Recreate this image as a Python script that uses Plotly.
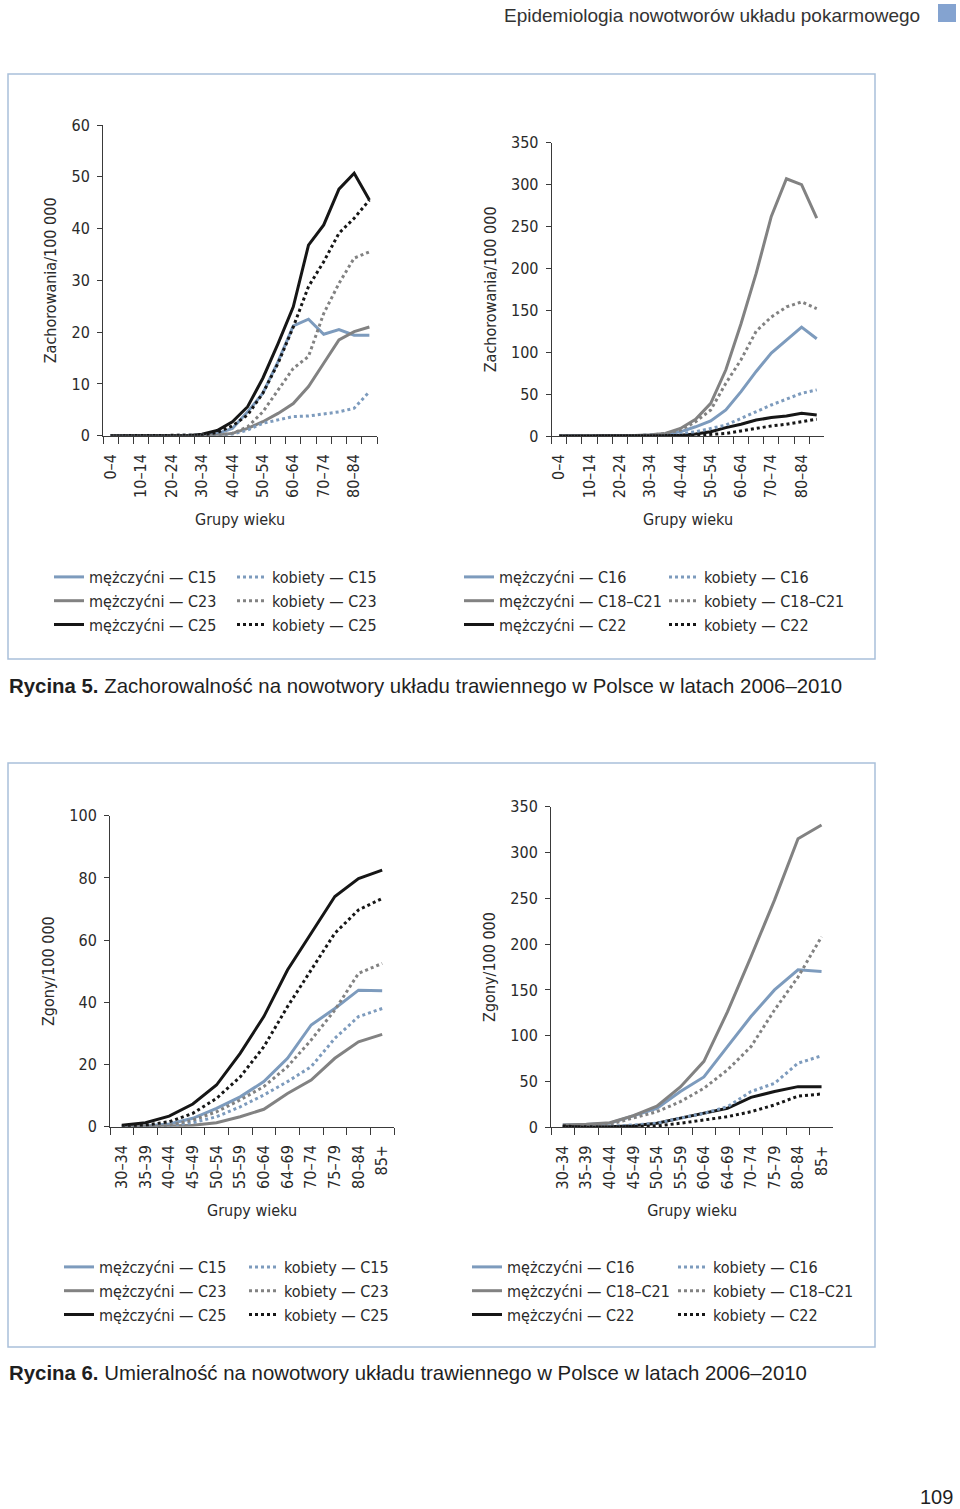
import plotly.graph_objects as go

# ---------------- DATA ----------------
ages_inc = ["0–4", "5–9", "10–14", "15–19", "20–24", "25–29", "30–34", "35–39", "40–44",
            "45–49", "50–54", "55–59", "60–64", "65–69", "70–74", "75–79", "80–84", "85+"]
ages_inc_labels = ["0–4", "", "10–14", "", "20–24", "", "30–34", "", "40–44",
                   "", "50–54", "", "60–64", "", "70–74", "", "80–84", ""]
ages_mort = ["30–34", "35–39", "40–44", "45–49", "50–54", "55–59", "60–64", "64–69",
             "70–74", "75–79", "80–84", "85+"]

# Rycina 5, left (incidence / 100 000)
men_C15_inc = [0, 0, 0, 0, 0, 0, 0.1, 0.4, 1.4, 4.6, 8.2, 14.3, 21.2, 22.5, 19.6, 20.5, 19.4, 19.4]
men_C23_inc = [0, 0, 0, 0, 0, 0, 0, 0.1, 0.45, 1.4, 2.7, 4.3, 6.2, 9.5, 14.0, 18.5, 20.1, 21.0]
men_C25_inc = [0, 0, 0, 0, 0, 0, 0.3, 1.0, 2.7, 5.6, 11.1, 17.8, 24.9, 36.8, 40.7, 47.6, 50.7, 45.5]
women_C15_inc = [0, 0, 0, 0, 0, 0, 0, 0.1, 0.3, 1.1, 2.4, 3.0, 3.7, 3.8, 4.2, 4.6, 5.3, 8.5]
women_C23_inc = [0, 0, 0, 0, 0, 0, 0, 0.1, 0.45, 1.7, 4.6, 8.8, 13.0, 15.3, 23.6, 29.4, 34.3, 35.5]
women_C25_inc = [0, 0, 0, 0, 0, 0, 0.1, 0.6, 1.9, 4.0, 8.2, 14.0, 21.0, 28.8, 33.6, 39.1, 42.0, 45.5]

# Rycina 5, right
men_C16_inc = [0, 0, 0, 0, 0.5, 0.5, 1, 2, 5, 11, 18, 31, 53, 77, 99, 115, 130, 116]
men_C18_21_inc = [0, 0, 0, 0, 0.5, 0.5, 1.5, 3, 9, 20, 39, 79, 134, 194, 262, 307, 300, 260]
men_C22_inc = [0, 0, 0, 0, 0, 0, 0.3, 0.5, 1, 2.4, 5, 10, 14, 19, 22, 24, 27, 25]
women_C16_inc = [0, 0, 0, 0, 0.3, 0.5, 1, 2, 3, 5, 9, 13, 21, 29, 37, 44, 51, 55]
women_C18_21_inc = [0, 0, 0, 0, 0.3, 0.5, 1, 3, 7, 17, 31, 63, 91, 125, 142, 154, 160, 152]
women_C22_inc = [0, 0, 0, 0, 0, 0, 0, 0.3, 0.5, 1, 2, 3, 6, 9, 12, 14, 17, 20]

# Rycina 6, left (deaths / 100 000)
men_C15_mort = [0, 0.2, 0.9, 2.7, 5.9, 9.6, 14.5, 22.0, 32.7, 38.0, 43.9, 43.7]
men_C23_mort = [0, 0, 0.2, 0.5, 1.3, 3.2, 5.6, 10.7, 15.0, 22.0, 27.3, 29.7]
men_C25_mort = [0.5, 1.3, 3.4, 7.3, 13.4, 23.6, 35.4, 50.4, 62.2, 74.0, 79.8, 82.5]
women_C15_mort = [0, 0, 0.4, 1.3, 3.2, 6.4, 10.2, 14.5, 19.3, 28.4, 35.4, 38.0]
women_C23_mort = [0, 0, 0.5, 2.1, 4.8, 8.6, 12.9, 19.3, 27.9, 37.5, 49.3, 52.5]
women_C25_mort = [0.3, 0.5, 1.6, 4.3, 9.1, 16.0, 25.7, 38.6, 50.4, 62.2, 69.7, 73.4]

# Rycina 6, right
men_C16_mort = [2.5, 3.0, 4.4, 12.4, 20.7, 39, 55, 88, 121, 150, 172, 170]
men_C18_21_mort = [2.5, 3.3, 5.0, 12.7, 23, 44, 72, 126, 186, 248, 315, 330]
men_C22_mort = [0.7, 0.7, 0.7, 1.8, 4.4, 10, 15.3, 20.7, 32.7, 39, 44.4, 44.4]
women_C16_mort = [0, 0.5, 1.0, 2.5, 4.4, 10, 15.3, 22.5, 39, 48, 70, 78]
women_C18_21_mort = [0, 1.0, 3.3, 10, 17, 28, 42.6, 62.6, 88, 128, 164, 208]
women_C22_mort = [1.5, 0, 0.4, 0.7, 1.5, 4.4, 8, 11.6, 17, 24.4, 34, 36.4]

# ---------------- STYLE ----------------
W, H = 960, 1509
BLUE = "#7d9bbd"
GRAY = "#828282"
BLACK = "#161616"
AXC = "#3a3a3a"
NARROW = "Liberation Sans Narrow, Arial Narrow, DejaVu Sans Condensed, sans-serif"
REG = "Liberation Sans, Arial, sans-serif"
TXT = "#2a2a2a"
FS = 16


def px_x(x):
    return x / W


def px_y(y):
    return 1 - y / H


fig = go.Figure()

M = "mężczyćni"
K = "kobiety"
panels = [
    ("x", "y", ages_inc, [
        (M + " — C15", men_C15_inc, BLUE, "solid", "legend"),
        (M + " — C23", men_C23_inc, GRAY, "solid", "legend"),
        (M + " — C25", men_C25_inc, BLACK, "solid", "legend"),
        (K + " — C15", women_C15_inc, BLUE, "dot", "legend2"),
        (K + " — C23", women_C23_inc, GRAY, "dot", "legend2"),
        (K + " — C25", women_C25_inc, BLACK, "dot", "legend2"),
    ]),
    ("x2", "y2", ages_inc, [
        (M + " — C16", men_C16_inc, BLUE, "solid", "legend3"),
        (M + " — C18–C21", men_C18_21_inc, GRAY, "solid", "legend3"),
        (M + " — C22", men_C22_inc, BLACK, "solid", "legend3"),
        (K + " — C16", women_C16_inc, BLUE, "dot", "legend4"),
        (K + " — C18–C21", women_C18_21_inc, GRAY, "dot", "legend4"),
        (K + " — C22", women_C22_inc, BLACK, "dot", "legend4"),
    ]),
    ("x3", "y3", ages_mort, [
        (M + " — C15", men_C15_mort, BLUE, "solid", "legend5"),
        (M + " — C23", men_C23_mort, GRAY, "solid", "legend5"),
        (M + " — C25", men_C25_mort, BLACK, "solid", "legend5"),
        (K + " — C15", women_C15_mort, BLUE, "dot", "legend6"),
        (K + " — C23", women_C23_mort, GRAY, "dot", "legend6"),
        (K + " — C25", women_C25_mort, BLACK, "dot", "legend6"),
    ]),
    ("x4", "y4", ages_mort, [
        (M + " — C16", men_C16_mort, BLUE, "solid", "legend7"),
        (M + " — C18–C21", men_C18_21_mort, GRAY, "solid", "legend7"),
        (M + " — C22", men_C22_mort, BLACK, "solid", "legend7"),
        (K + " — C16", women_C16_mort, BLUE, "dot", "legend8"),
        (K + " — C18–C21", women_C18_21_mort, GRAY, "dot", "legend8"),
        (K + " — C22", women_C22_mort, BLACK, "dot", "legend8"),
    ]),
]

for xa, ya, cats, series in panels:
    for name, vals, col, dash, leg in series:
        fig.add_trace(go.Scatter(
            x=cats, y=vals, name=name, mode="lines", xaxis=xa, yaxis=ya,
            line=dict(color=col, width=3, dash=dash), legend=leg,
            hoverinfo="skip"))

# ---------------- AXES ----------------
def xaxis_cfg(dom, cats, labels, anchor):
    return dict(
        domain=dom, anchor=anchor, type="category", categoryorder="array", categoryarray=cats,
        range=[-0.5, len(cats) - 0.5],
        tickmode="array", tickvals=cats, ticktext=labels, tickson="boundaries",
        ticks="outside", ticklen=7, tickwidth=1, tickcolor=AXC,
        showline=True, linecolor=AXC, linewidth=1, showgrid=False, zeroline=False,
        tickangle=-90, ticklabelstandoff=11,
        tickfont=dict(family=NARROW, size=FS, color=TXT),
        title=dict(text="Grupy wieku", font=dict(family=NARROW, size=FS, color=TXT), standoff=16),
        fixedrange=True,
    )


def yaxis_cfg(dom, rng, dtick, anchor, title):
    return dict(
        domain=dom, range=rng, dtick=dtick, tick0=0, anchor=anchor,
        ticks="outside", ticklen=5, tickwidth=1, tickcolor=AXC,
        showline=True, linecolor=AXC, linewidth=1, showgrid=False, zeroline=False,
        ticklabelstandoff=4,
        tickfont=dict(family=NARROW, size=FS, color=TXT),
        title=dict(text=title, font=dict(family=NARROW, size=FS, color=TXT), standoff=10),
        fixedrange=True,
    )


layout = dict(
    width=W, height=H, margin=dict(l=0, r=0, t=0, b=0, autoexpand=False),
    paper_bgcolor="white", plot_bgcolor="white", showlegend=True,
    xaxis=xaxis_cfg([px_x(103), px_x(377)], ages_inc, ages_inc_labels, "y"),
    yaxis=yaxis_cfg([px_y(435.7), px_y(125)], [0, 60], 10, "x", "Zachorowania/100 000"),
    xaxis2=xaxis_cfg([px_x(551.7), px_x(824.3)], ages_inc, ages_inc_labels, "y2"),
    yaxis2=yaxis_cfg([px_y(436), px_y(142.7)], [0, 350], 50, "x2", "Zachorowania/100 000"),
    xaxis3=xaxis_cfg([px_x(110), px_x(394)], ages_mort, ages_mort, "y3"),
    yaxis3=yaxis_cfg([px_y(1126.7), px_y(815.7)], [0, 100], 20, "x3", "Zgony/100 000"),
    xaxis4=xaxis_cfg([px_x(551), px_x(833.3)], ages_mort, ages_mort, "y4"),
    yaxis4=yaxis_cfg([px_y(1127.3), px_y(806.7)], [0, 350], 50, "x4", "Zgony/100 000"),
)

# ---------------- LEGENDS ----------------
legend_pos = {
    "legend": (49, 560), "legend2": (232, 560),
    "legend3": (459, 560), "legend4": (664, 560),
    "legend5": (59, 1250), "legend6": (244, 1250),
    "legend7": (467, 1250), "legend8": (673, 1250),
}
for key, (lx, ly) in legend_pos.items():
    layout[key] = dict(
        x=px_x(lx), y=px_y(ly), xanchor="left", yanchor="top",
        orientation="v", bgcolor="rgba(0,0,0,0)", borderwidth=0,
        font=dict(family=NARROW, size=FS, color=TXT),
        tracegroupgap=0, itemclick=False, itemdoubleclick=False,
    )

fig.update_layout(**layout)

# ---------------- PANEL FRAMES & PAGE TEXT ----------------
FRAME = "#a9c0da"
for (x0, y0, x1, y1) in [(8, 74, 875, 659), (8, 763, 875, 1347)]:
    fig.add_shape(type="rect", xref="paper", yref="paper",
                  x0=px_x(x0), x1=px_x(x1), y0=px_y(y1), y1=px_y(y0),
                  line=dict(color=FRAME, width=1.5), fillcolor="rgba(0,0,0,0)")

fig.add_shape(type="rect", xref="paper", yref="paper",
              x0=px_x(938), x1=px_x(956), y0=px_y(22), y1=px_y(4),
              line=dict(width=0), fillcolor="#84a3d0")

fig.add_annotation(text="Epidemiologia nowotworów układu pokarmowego",
                   xref="paper", yref="paper", x=px_x(922), y=px_y(15),
                   xanchor="right", yanchor="middle", showarrow=False,
                   font=dict(family=REG, size=19, color="#333333"))

fig.add_annotation(text="<b>Rycina 5.</b> Zachorowalność na nowotwory układu trawiennego w Polsce w latach 2006–2010",
                   xref="paper", yref="paper", x=px_x(7), y=px_y(686),
                   xanchor="left", yanchor="middle", showarrow=False,
                   font=dict(family=REG, size=20.4, color="#1f1f1f"))
fig.add_annotation(text="<b>Rycina 6.</b> Umieralność na nowotwory układu trawiennego w Polsce w latach 2006–2010",
                   xref="paper", yref="paper", x=px_x(7), y=px_y(1373),
                   xanchor="left", yanchor="middle", showarrow=False,
                   font=dict(family=REG, size=20.4, color="#1f1f1f"))
fig.add_annotation(text="109", xref="paper", yref="paper", x=px_x(955), y=px_y(1497),
                   xanchor="right", yanchor="middle", showarrow=False,
                   font=dict(family=REG, size=20, color="#1f1f1f"))

fig.write_html(
    "out.html",
    config={"displayModeBar": False, "staticPlot": False},
    post_script="document.body.style.margin='0px';"
                "document.documentElement.style.overflow='hidden';"
                "document.body.style.overflow='hidden';",
)
